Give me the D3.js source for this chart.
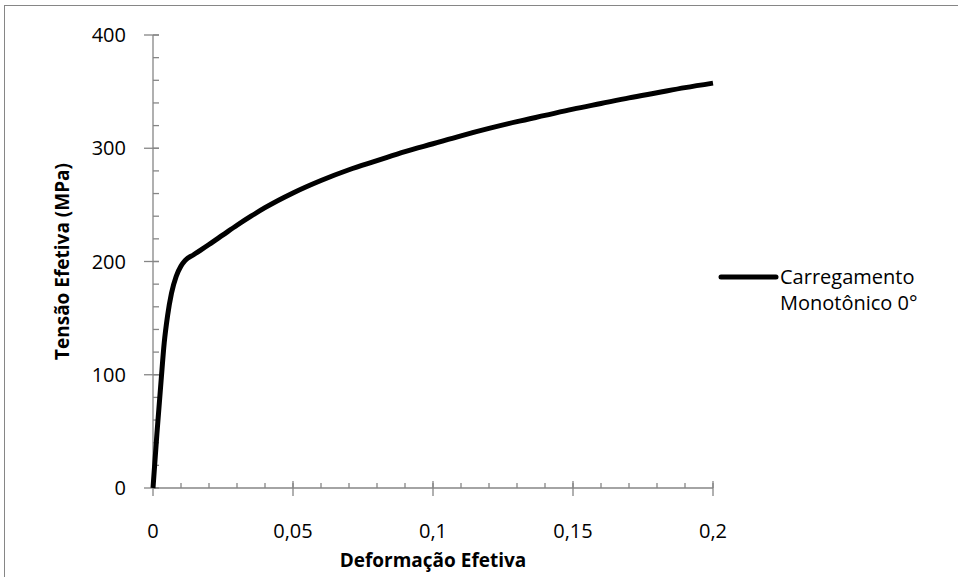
<!DOCTYPE html>
<html>
<head>
<meta charset="utf-8">
<script src="https://cdn.jsdelivr.net/npm/d3@7"></script>
<style>
  body { margin: 0; background: #fff; }
  svg text { font-family: "Open Sans", "Noto Sans", sans-serif; fill: #000; }
</style>
</head>
<body>
<div id="chart"></div>
<script>
// strain / stress values
var strain = [0, 0.0014, 0.0029, 0.004, 0.0052, 0.0066, 0.0083, 0.0100, 0.0115, 0.0145,
    0.02, 0.025, 0.03, 0.035, 0.04, 0.05, 0.06, 0.07, 0.08, 0.09, 0.10, 0.11, 0.12,
    0.13, 0.14, 0.15, 0.16, 0.17, 0.18, 0.19, 0.2];
var stress = [0, 48, 95, 128, 152, 172, 187, 196, 201, 206,
    215, 223.5, 232, 240, 247.5, 260.5, 271.5, 281, 289, 297, 304, 311, 317.5,
    323.5, 329, 334.5, 339.5, 344.5, 349, 353.5, 357.5];
var xTicks = [0, 0.05, 0.1, 0.15, 0.2];
var yTicks = [0, 100, 200, 300, 400];
var seriesName = ["Carregamento", "Monotônico 0°"];

var width = 958, height = 577;
var margin = { left: 153, top: 35, right: 245, bottom: 89 };
var innerW = width - margin.left - margin.right;
var innerH = height - margin.top - margin.bottom;
var axisColor = "#868686";

var svg = d3.select("#chart").append("svg")
    .attr("width", width)
    .attr("height", height);

// chart frame
svg.append("rect")
    .attr("x", 4.5).attr("y", 5.5)
    .attr("width", 1000).attr("height", 700)
    .attr("fill", "none")
    .attr("stroke", axisColor)
    .attr("stroke-width", 1);

var g = svg.append("g")
    .attr("transform", "translate(" + margin.left + "," + margin.top + ")");

var x = d3.scaleLinear().domain([0, 0.2]).range([0, innerW]);
var y = d3.scaleLinear().domain([0, 400]).range([innerH, 0]);

var fmt = function (d) { return String(d).replace(".", ","); };

// minor ticks (inside)
g.selectAll(".xminor").data(d3.range(0, 21).map(function (i) { return i / 100; }))
    .enter().append("line")
    .attr("x1", function (d) { return x(d); }).attr("x2", function (d) { return x(d); })
    .attr("y1", innerH).attr("y2", innerH - 5)
    .attr("stroke", axisColor).attr("stroke-width", 1.3);
g.selectAll(".yminor").data(d3.range(0, 21).map(function (i) { return i * 20; }))
    .enter().append("line")
    .attr("x1", 0).attr("x2", 6)
    .attr("y1", function (d) { return y(d); }).attr("y2", function (d) { return y(d); })
    .attr("stroke", axisColor).attr("stroke-width", 1.3);

// major ticks (cross)
g.selectAll(".xmajor").data(xTicks).enter().append("line")
    .attr("x1", function (d) { return x(d); }).attr("x2", function (d) { return x(d); })
    .attr("y1", innerH - 7).attr("y2", innerH + 8)
    .attr("stroke", axisColor).attr("stroke-width", 1.3);
g.selectAll(".ymajor").data(yTicks).enter().append("line")
    .attr("x1", -9).attr("x2", 6)
    .attr("y1", function (d) { return y(d); }).attr("y2", function (d) { return y(d); })
    .attr("stroke", axisColor).attr("stroke-width", 1.3);

// axis lines
g.append("line").attr("x1", 0).attr("x2", innerW).attr("y1", innerH).attr("y2", innerH)
    .attr("stroke", axisColor).attr("stroke-width", 1.3);
g.append("line").attr("x1", 0).attr("x2", 0).attr("y1", 0).attr("y2", innerH)
    .attr("stroke", axisColor).attr("stroke-width", 1.3);

// tick labels
g.selectAll(".xlabel").data(xTicks).enter().append("text")
    .attr("x", function (d) { return x(d); })
    .attr("y", innerH + 50)
    .attr("text-anchor", "middle")
    .style("font-size", "20px")
    .text(fmt);
g.selectAll(".ylabel").data(yTicks).enter().append("text")
    .attr("x", -27)
    .attr("y", function (d) { return y(d) + 7; })
    .attr("text-anchor", "end")
    .style("font-size", "20px")
    .text(fmt);

// axis titles
g.append("text")
    .attr("x", innerW / 2).attr("y", innerH + 79)
    .attr("text-anchor", "middle")
    .style("font-size", "19px").style("font-weight", "bold")
    .text("Deformação Efetiva");
g.append("text")
    .attr("transform", "translate(" + (-84) + "," + (innerH / 2) + ") rotate(-90)")
    .attr("text-anchor", "middle")
    .style("font-size", "19px").style("font-weight", "bold")
    .text("Tensão Efetiva (MPa)");

// the curve
var line = d3.line()
    .x(function (d, i) { return x(strain[i]); })
    .y(function (d, i) { return y(stress[i]); })
    .curve(d3.curveMonotoneX);
g.append("path")
    .datum(stress)
    .attr("d", line)
    .attr("fill", "none")
    .attr("stroke", "#000")
    .attr("stroke-width", 5)
    .attr("stroke-linejoin", "round");

// legend
var legend = svg.append("g").attr("transform", "translate(721,277)");
legend.append("line").attr("x1", 0).attr("x2", 55).attr("y1", 0).attr("y2", 0)
    .attr("stroke", "#000").attr("stroke-width", 5).attr("stroke-linecap", "round");
legend.selectAll("text").data(seriesName).enter().append("text")
    .attr("x", 59)
    .attr("y", function (d, i) { return 7 + i * 26; })
    .style("font-size", "20px")
    .text(function (d) { return d; });
</script>
</body>
</html>
